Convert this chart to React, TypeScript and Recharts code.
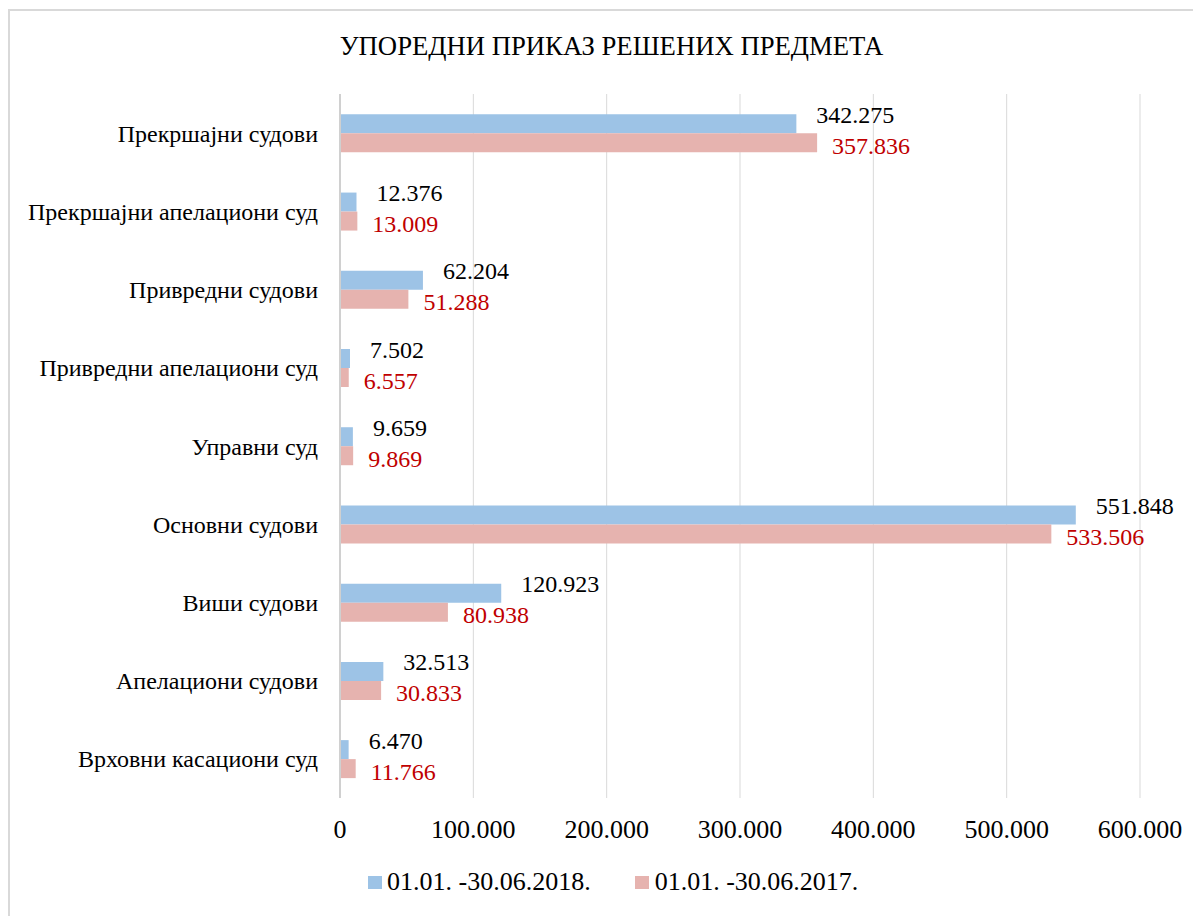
import React from "react";
import {
  BarChart,
  Bar,
  XAxis,
  YAxis,
  CartesianGrid,
  Legend,
  LabelList
} from "recharts";

const courts = [
  "Прекршајни судови",
  "Прекршајни апелациони суд",
  "Привредни судови",
  "Привредни апелациони суд",
  "Управни суд",
  "Основни судови",
  "Виши судови",
  "Апелациони судови",
  "Врховни касациони суд"
];

const solved2018 = [342275, 12376, 62204, 7502, 9659, 551848, 120923, 32513, 6470];
const solved2017 = [357836, 13009, 51288, 6557, 9869, 533506, 80938, 30833, 11766];

const xTicks = [0, 100000, 200000, 300000, 400000, 500000, 600000];

const label2018 = "01.01. -30.06.2018.";
const label2017 = "01.01. -30.06.2017.";

const data = courts.map((name, i) => ({
  name,
  y2018: solved2018[i],
  y2017: solved2017[i]
}));

const FONT = '"Liberation Serif", "Times New Roman", serif';
const BLUE = "#9DC3E6";
const PINK = "#E6B3AF";

// 1.234.567 style
const fmt = (v: number) => String(v).replace(/\B(?=(\d{3})+(?!\d))/g, ".");

const makeLabel = (color: string, dx: number, dy: number) => (props: any) => {
  const { x, y, width, height, value } = props;
  return (
    <text
      x={Number(x) + Number(width) + dx}
      y={Number(y) + Number(height) / 2 + dy}
      fill={color}
      fontSize={24}
      fontFamily={FONT}
      dominantBaseline="central"
    >
      {fmt(value)}
    </text>
  );
};

const LegendContent = () => (
  <div
    style={{
      display: "flex",
      alignItems: "center",
      height: 40,
      fontFamily: FONT,
      fontSize: 26,
      color: "#000"
    }}
  >
    <span style={{ width: 14, height: 13, background: BLUE, marginRight: 5 }} />
    <span style={{ marginRight: 44 }}>{label2018}</span>
    <span style={{ width: 14, height: 13, background: PINK, marginRight: 6 }} />
    <span>{label2017}</span>
  </div>
);

export default function App() {
  return (
    <div
      style={{
        position: "relative",
        marginTop: 1,
        width: 1191,
        height: 920,
        border: "2px solid #d9d9d9",
        background: "#fff"
      }}
    >
      <div
        style={{
          position: "absolute",
          top: 20,
          left: 0,
          width: 1203,
          textAlign: "center",
          fontFamily: FONT,
          fontSize: 26.7,
          color: "#000"
        }}
      >
        УПОРЕДНИ ПРИКАЗ РЕШЕНИХ ПРЕДМЕТА
      </div>
      <BarChart
        width={1191}
        height={905}
        data={data}
        layout="vertical"
        margin={{ top: 83, right: 61, left: 10, bottom: 14 }}
        barCategoryGap="26%"
        barGap={0}
      >
        <CartesianGrid horizontal={false} stroke="#d9d9d9" />
        <XAxis
          type="number"
          domain={[0, 600000]}
          ticks={xTicks}
          tickFormatter={fmt}
          axisLine={false}
          tickLine={false}
          tickSize={0}
          tickMargin={22}
          height={64}
          tick={{ fill: "#000", fontSize: 26, fontFamily: FONT }}
        />
        <YAxis
          type="category"
          dataKey="name"
          width={320}
          axisLine={{ stroke: "#d0d0d0", strokeWidth: 2 }}
          tickLine={false}
          tickSize={0}
          tickMargin={22}
          interval={0}
          tick={{ fill: "#000", fontSize: 24, fontFamily: FONT }}
        />
        <Legend
          verticalAlign="bottom"
          height={40}
          content={<LegendContent />}
          wrapperStyle={{ left: 358, width: 700 }}
        />
        <Bar dataKey="y2018" name={label2018} fill={BLUE} isAnimationActive={false}>
          <LabelList dataKey="y2018" content={makeLabel("#000", 20, -9)} />
        </Bar>
        <Bar dataKey="y2017" name={label2017} fill={PINK} isAnimationActive={false}>
          <LabelList dataKey="y2017" content={makeLabel("#C00000", 15, 3)} />
        </Bar>
      </BarChart>
    </div>
  );
}
